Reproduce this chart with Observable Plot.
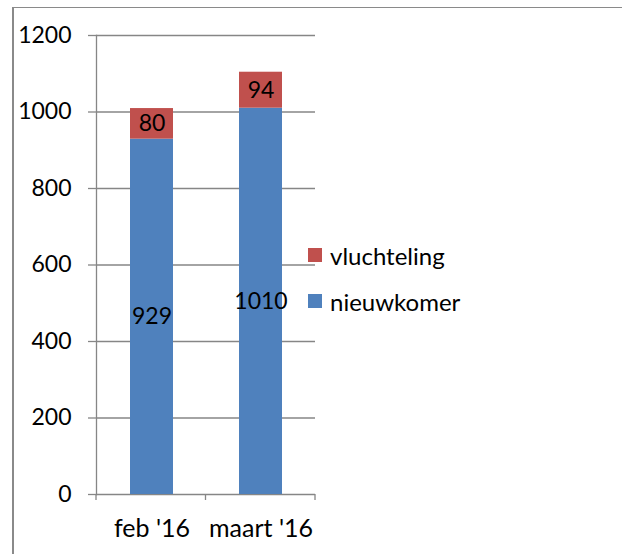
<!DOCTYPE html>
<html><head><meta charset="utf-8">
<script src="https://cdn.jsdelivr.net/npm/d3@7"></script>
<script src="https://cdn.jsdelivr.net/npm/@observablehq/plot@0.6"></script>
<style>
body{margin:0;background:#fff;}
#wrap{position:relative;width:622px;height:554px;overflow:hidden;font-family:Lato,sans-serif;color:#000;}
#border{position:absolute;left:12px;top:7px;width:700px;height:700px;border-top:1.5px solid #8a8a8a;border-left:2px solid #8a8a8a;}
#chart{position:absolute;left:0;top:0;}
#legend{position:absolute;left:308px;top:240px;font-size:24px;font-family:Lato,sans-serif;}
.item{display:flex;align-items:center;height:30px;margin-bottom:16px;}
.sw{width:14px;height:14px;margin-right:8px;}
</style>
</head><body>
<div id="wrap"><div id="border"></div><div id="chart"></div><div id="legend"></div></div>
<script>
const months = ["feb '16", "maart '16"];
const series = ["nieuwkomer", "vluchteling"];
const nieuwkomer = [929, 1010];
const vluchteling = [80, 94];
const colors = ["#4F81BD", "#C0504D"];
const yTicks = [0, 200, 400, 600, 800, 1000, 1200];

const values = {nieuwkomer, vluchteling};
const data = [];
series.forEach(s => months.forEach((m, i) => data.push({month: m, series: s, value: values[s][i]})));

const gridColor = "#868686";

const boundaryTicks = (index, scales, vals, dim) => {
  const g = d3.create("svg:g");
  const n = months.length;
  const w = (dim.width - dim.marginLeft - dim.marginRight) / n;
  const y0 = dim.height - dim.marginBottom;
  for (let i = 0; i <= n; i++) {
    const x = dim.marginLeft + i * w;
    g.append("line").attr("x1", x).attr("x2", x).attr("y1", y0).attr("y2", y0 + 6)
      .attr("stroke", gridColor).attr("stroke-width", 1.3);
  }
  return g.node();
};

const chart = Plot.plot({
  width: 622, height: 554,
  marginLeft: 96, marginRight: 307, marginTop: 35, marginBottom: 60,
  style: {fontFamily: "Lato, sans-serif", fontSize: "23px", color: "#000", background: "transparent", overflow: "visible"},
  x: {domain: months, paddingInner: 0.607, paddingOuter: 0.3035},
  y: {domain: [0, 1200]},
  color: {domain: series, range: colors},
  marks: [
    Plot.gridY(yTicks, {stroke: gridColor, strokeOpacity: 1, strokeWidth: 1.3}),
    Plot.barY(data, {x: "month", y: "value", fill: "series"}),
    Plot.text(data, Plot.stackY({x: "month", y: "value", z: "series", text: d => String(d.value), fill: "#000", fontSize: 23})),
    Plot.frame({anchor: "left", stroke: gridColor, strokeWidth: 1.3}),
    Plot.axisY({ticks: yTicks, tickFormat: d => String(d), tickSize: 8, tickPadding: 17, stroke: gridColor, strokeWidth: 1.3, fill: "#000", fontSize: 23, label: null}),
    Plot.axisX({tickSize: 0, tickPadding: 25, fill: "#000", fontSize: 25, label: null}),
    boundaryTicks
  ]
});
document.getElementById("chart").appendChild(chart);

const legend = document.getElementById("legend");
series.slice().reverse().forEach(s => {
  const item = document.createElement("div");
  item.className = "item";
  const sw = document.createElement("div");
  sw.className = "sw";
  sw.style.background = colors[series.indexOf(s)];
  const t = document.createElement("span");
  t.textContent = s;
  item.appendChild(sw); item.appendChild(t);
  legend.appendChild(item);
});
</script>
</body></html>
